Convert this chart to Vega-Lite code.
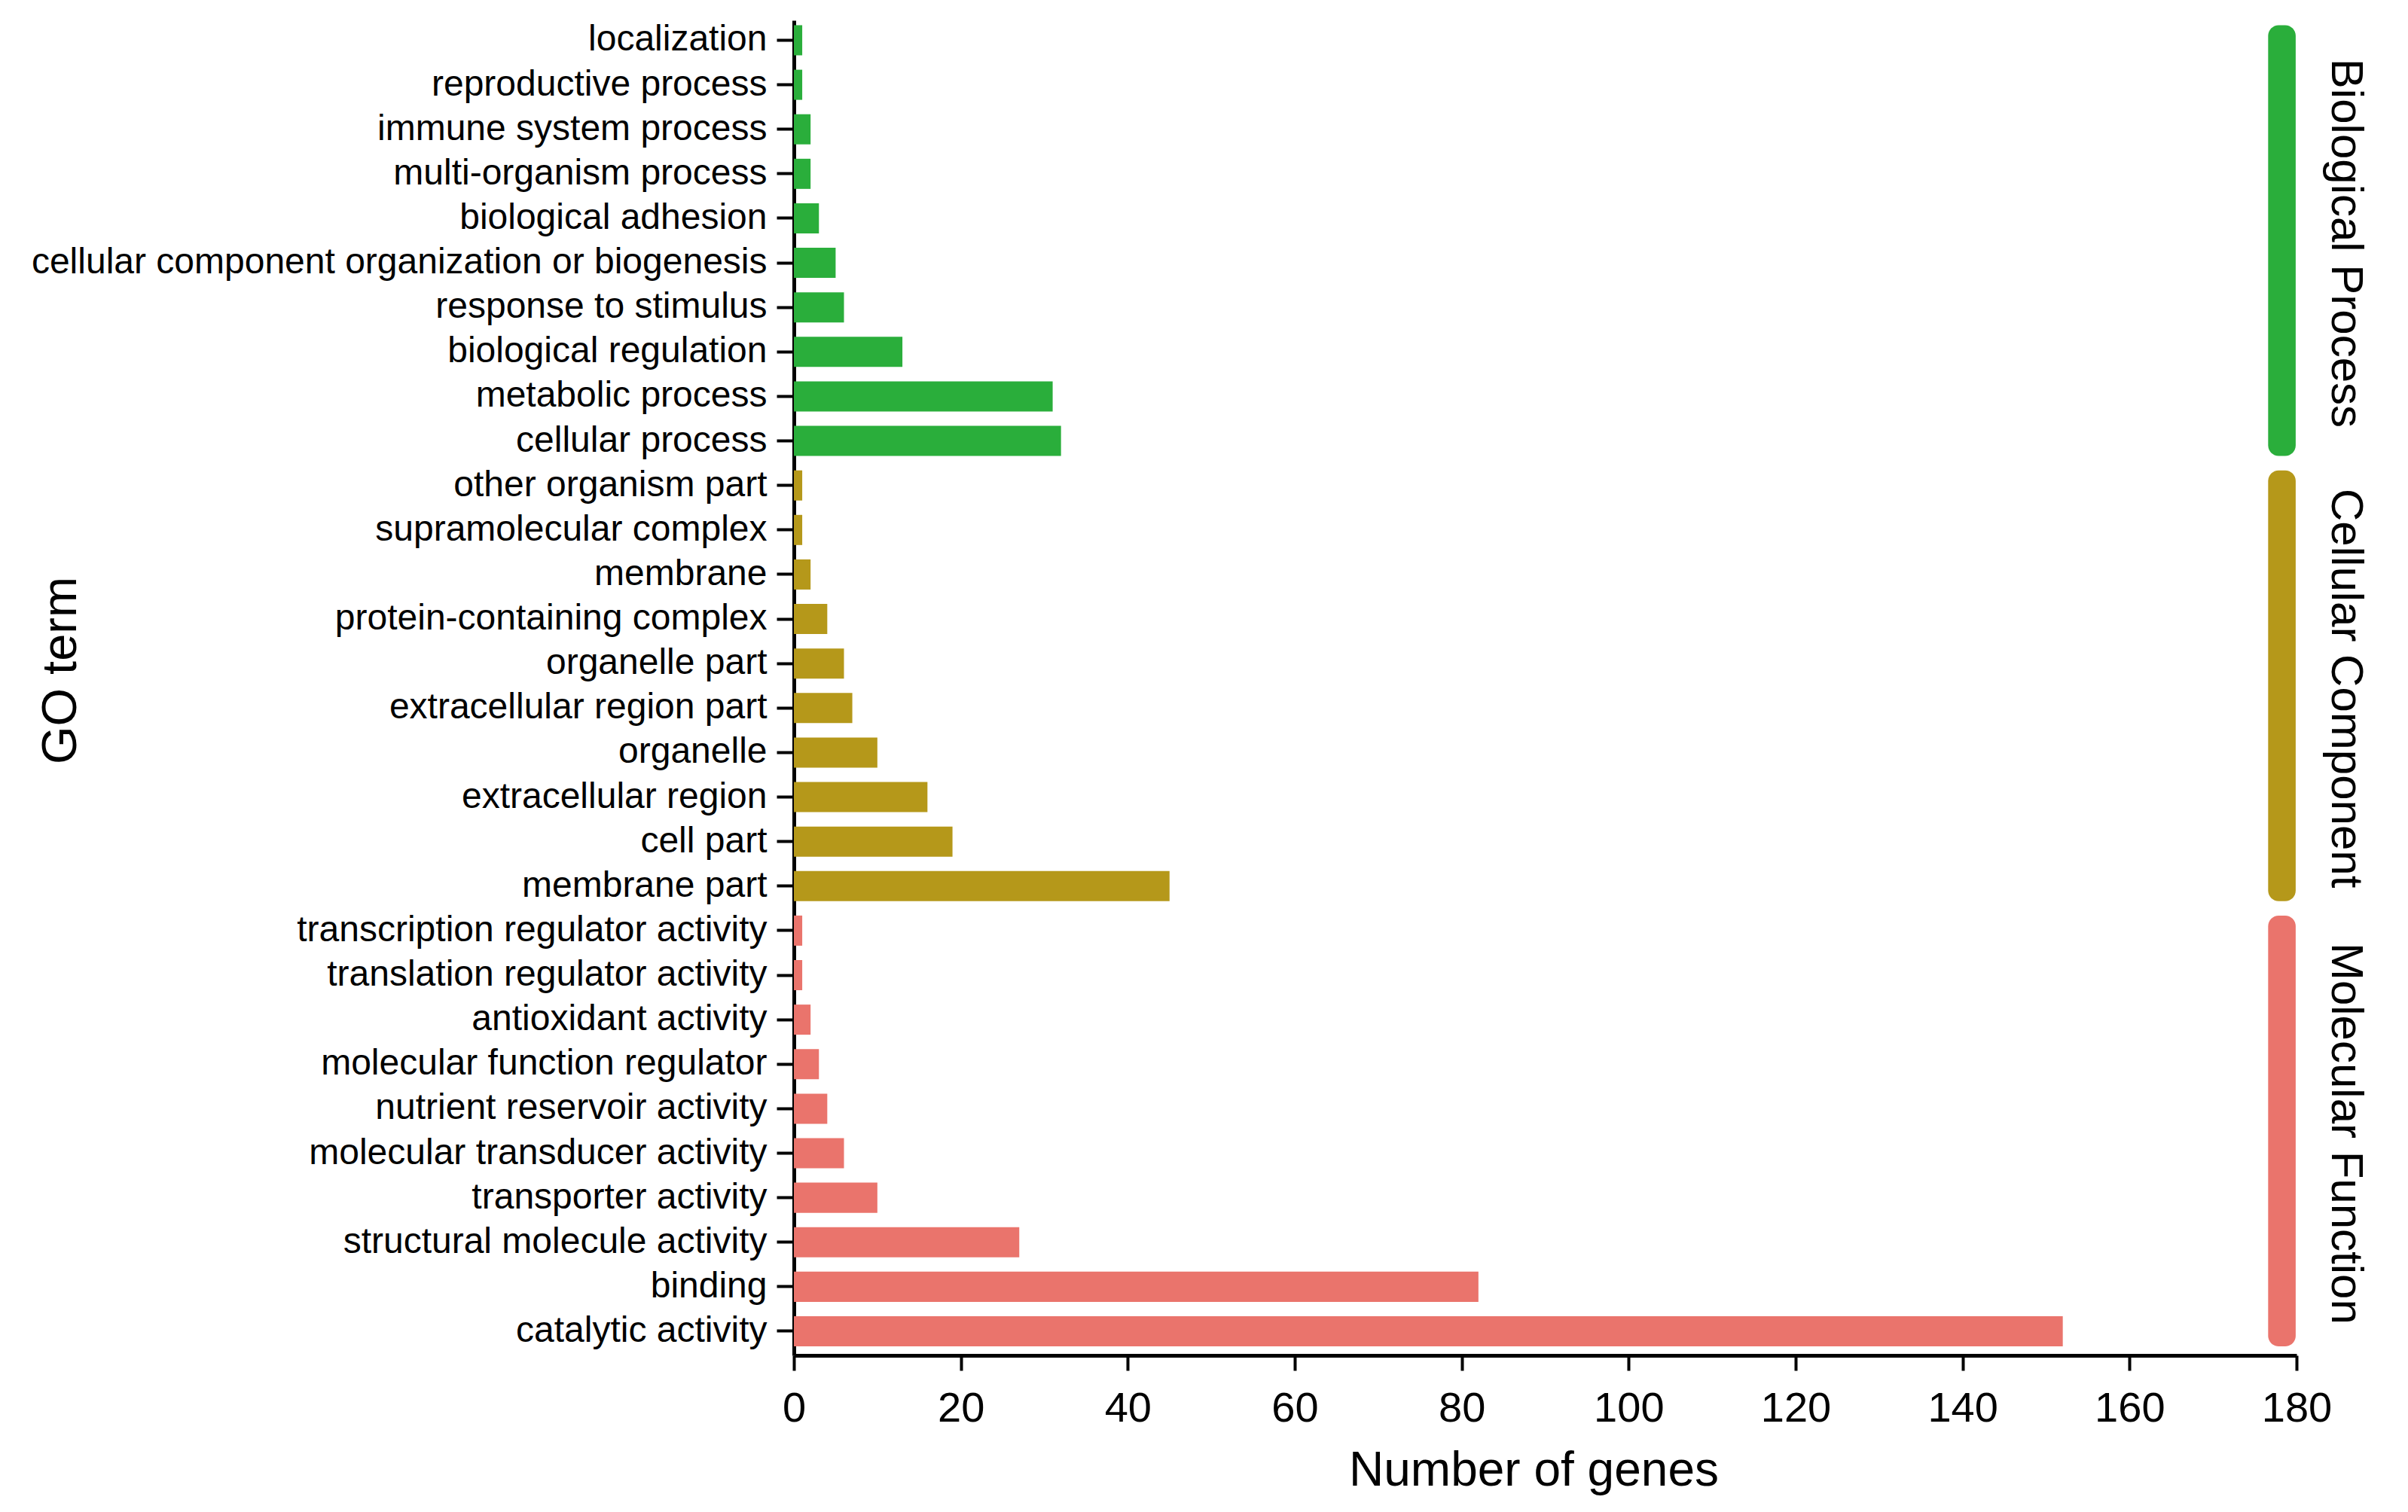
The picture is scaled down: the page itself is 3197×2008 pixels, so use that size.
{
  "$schema": "https://vega.github.io/schema/vega-lite/v6.json",
  "width": 1995,
  "height": 1773,
  "autosize": {"type": "none"},
  "padding": {"left": 1054, "top": 27, "right": 148, "bottom": 208},
  "background": "white",
  "config": {
    "view": {"stroke": null},
    "font": "Liberation Sans",
    "axis": {"grid": false, "domainColor": "black", "tickColor": "black", "labelColor": "black", "titleColor": "black", "titleFontWeight": "normal", "labelFont": "Liberation Sans", "titleFont": "Liberation Sans"}
  },
  "datasets": {
    "terms": [
      {"term": "localization", "category": "Biological Process", "genes": 1},
      {"term": "reproductive process", "category": "Biological Process", "genes": 1},
      {"term": "immune system process", "category": "Biological Process", "genes": 2},
      {"term": "multi-organism process", "category": "Biological Process", "genes": 2},
      {"term": "biological adhesion", "category": "Biological Process", "genes": 3},
      {"term": "cellular component organization or biogenesis", "category": "Biological Process", "genes": 5},
      {"term": "response to stimulus", "category": "Biological Process", "genes": 6},
      {"term": "biological regulation", "category": "Biological Process", "genes": 13},
      {"term": "metabolic process", "category": "Biological Process", "genes": 31},
      {"term": "cellular process", "category": "Biological Process", "genes": 32},
      {"term": "other organism part", "category": "Cellular Component", "genes": 1},
      {"term": "supramolecular complex", "category": "Cellular Component", "genes": 1},
      {"term": "membrane", "category": "Cellular Component", "genes": 2},
      {"term": "protein-containing complex", "category": "Cellular Component", "genes": 4},
      {"term": "organelle part", "category": "Cellular Component", "genes": 6},
      {"term": "extracellular region part", "category": "Cellular Component", "genes": 7},
      {"term": "organelle", "category": "Cellular Component", "genes": 10},
      {"term": "extracellular region", "category": "Cellular Component", "genes": 16},
      {"term": "cell part", "category": "Cellular Component", "genes": 19},
      {"term": "membrane part", "category": "Cellular Component", "genes": 45},
      {"term": "transcription regulator activity", "category": "Molecular Function", "genes": 1},
      {"term": "translation regulator activity", "category": "Molecular Function", "genes": 1},
      {"term": "antioxidant activity", "category": "Molecular Function", "genes": 2},
      {"term": "molecular function regulator", "category": "Molecular Function", "genes": 3},
      {"term": "nutrient reservoir activity", "category": "Molecular Function", "genes": 4},
      {"term": "molecular transducer activity", "category": "Molecular Function", "genes": 6},
      {"term": "transporter activity", "category": "Molecular Function", "genes": 10},
      {"term": "structural molecule activity", "category": "Molecular Function", "genes": 27},
      {"term": "binding", "category": "Molecular Function", "genes": 82},
      {"term": "catalytic activity", "category": "Molecular Function", "genes": 152}
    ],
    "groups": [
      {"category": "Biological Process", "first": "localization", "last": "cellular process", "mid": "biological adhesion"},
      {"category": "Cellular Component", "first": "other organism part", "last": "membrane part", "mid": "organelle part"},
      {"category": "Molecular Function", "first": "transcription regulator activity", "last": "catalytic activity", "mid": "nutrient reservoir activity"}
    ]
  },
  "layer": [
    {
      "data": {"name": "terms"},
      "mark": {"type": "bar"},
      "encoding": {
        "y": {
          "field": "term", "type": "nominal", "title": "GO term",
          "scale": {
            "domain": ["localization", "reproductive process", "immune system process", "multi-organism process", "biological adhesion", "cellular component organization or biogenesis", "response to stimulus", "biological regulation", "metabolic process", "cellular process", "other organism part", "supramolecular complex", "membrane", "protein-containing complex", "organelle part", "extracellular region part", "organelle", "extracellular region", "cell part", "membrane part", "transcription regulator activity", "translation regulator activity", "antioxidant activity", "molecular function regulator", "nutrient reservoir activity", "molecular transducer activity", "transporter activity", "structural molecule activity", "binding", "catalytic activity"],
            "paddingInner": 0.323, "paddingOuter": 0.156, "align": 0.35
          },
          "axis": {
            "labelFontSize": 48, "labelPadding": 13, "tickSize": 23, "tickWidth": 4, "domainWidth": 5,
            "titleFontSize": 65, "titleAngle": -90, "titleX": -954, "titleY": 863, "titleBaseline": "alphabetic", "titleAlign": "center", "labelLimit": 2000
          }
        },
        "x": {
          "field": "genes", "type": "quantitative", "title": "Number of genes",
          "scale": {"domain": [0, 180], "nice": false, "zero": true},
          "axis": {
            "values": [0, 20, 40, 60, 80, 100, 120, 140, 160, 180],
            "labelFontSize": 56, "labelPadding": 23, "tickSize": 20, "tickWidth": 4, "domainWidth": 5,
            "titleFontSize": 64, "titleX": 982, "titleY": 172, "titleBaseline": "alphabetic", "titleAlign": "center", "labelFlush": false
          }
        },
        "color": {
          "field": "category", "type": "nominal", "legend": null,
          "scale": {"domain": ["Biological Process", "Cellular Component", "Molecular Function"], "range": ["#2AAE3B", "#B5981A", "#EA746C"]}
        }
      }
    },
    {
      "data": {"name": "groups"},
      "mark": {"type": "rect", "cornerRadius": 14},
      "encoding": {
        "y": {"field": "first", "type": "nominal", "bandPosition": 0, "title": "GO term"},
        "y2": {"field": "last", "bandPosition": 1},
        "x": {"datum": 176.6, "type": "quantitative", "title": "Number of genes"},
        "x2": {"datum": 179.9},
        "color": {"field": "category", "type": "nominal", "legend": null}
      }
    },
    {
      "data": {"name": "groups"},
      "mark": {"type": "text", "angle": 90, "align": "center", "baseline": "alphabetic", "fontSize": 60, "font": "Liberation Sans", "color": "black", "yOffset": 33},
      "encoding": {
        "y": {"field": "mid", "type": "nominal", "title": "GO term"},
        "x": {"datum": 184.2, "type": "quantitative", "title": "Number of genes"},
        "text": {"field": "category", "type": "nominal"}
      }
    }
  ]
}
